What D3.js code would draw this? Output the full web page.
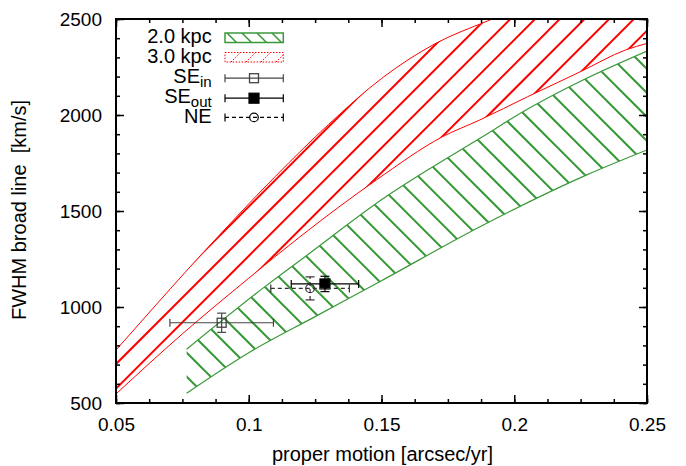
<!DOCTYPE html>
<html><head><meta charset="utf-8">
<script src="https://cdn.jsdelivr.net/npm/d3@7"></script>
<style>
body{margin:0;background:#fff}
svg text{font-family:"Liberation Sans",Arial,sans-serif;fill:#000}
</style>
</head><body>
<svg id="chart" width="686" height="466"></svg>
<script>
// ---- data ----
const xTicks = [0.05, 0.1, 0.15, 0.2, 0.25];
const yTicks = [500, 1000, 1500, 2000, 2500];
const xTickLabels = ["0.05", "0.1", "0.15", "0.2", "0.25"];
const yTickLabels = ["500", "1000", "1500", "2000", "2500"];

// 3.0 kpc band (red)
const red3UpperX = [0.05, 0.065, 0.076, 0.09, 0.11, 0.13, 0.15, 0.17, 0.19, 0.21, 0.25];
const red3UpperY = [776, 1010, 1180, 1390, 1680, 1950, 2190, 2370, 2490, 2600, 2800];
const red3LowerX = [0.05, 0.075, 0.1, 0.1193, 0.148, 0.173, 0.187, 0.205, 0.225, 0.242, 0.25];
const red3LowerY = [547, 860, 1150, 1366, 1661, 1887, 1974, 2095, 2226, 2339, 2373];

// 2.0 kpc band (green)
const green2UpperX = [0.0766, 0.1061, 0.1212, 0.1526, 0.1694, 0.1871, 0.2033, 0.2259, 0.25];
const green2UpperY = [780, 1106, 1262, 1583, 1731, 1879, 2017, 2182, 2333];
const green2LowerX = [0.0766, 0.1, 0.125, 0.15, 0.1871, 0.2273, 0.25];
const green2LowerY = [551, 762, 950, 1137, 1418, 1688, 1818];

// measurements
const pointNames = ["SE_in", "SE_out", "NE"];
const pointX = [0.0898, 0.1287, 0.1231];
const pointY = [918, 1120, 1097];
const pointXErr = [0.0195, 0.0127, 0.0148];
const pointYErr = [50, 40, 60];

const legendLabels = ["2.0 kpc", "3.0 kpc", "SE", "SE", "NE"];
const legendSubs = ["", "", "in", "out", ""];

// ---- layout ----
const svg = d3.select("#chart");
const L = 116, R = 647, T = 19, B = 403;
const x = d3.scaleLinear().domain([0.05, 0.25]).range([L, R]);
const y = d3.scaleLinear().domain([500, 2500]).range([B, T]);
const RED = "#ff0000", GREEN = "#3a983a";

const defs = svg.append("defs");
defs.append("clipPath").attr("id", "plotclip")
  .append("rect").attr("x", L).attr("y", T).attr("width", R - L).attr("height", B - T);

const curve = d3.line().x(d => x(d[0])).y(d => y(d[1])).curve(d3.curveMonotoneX);
const pts = (xs, ys) => xs.map((v, i) => [v, ys[i]]);
function bandPath(ux, uy, lx, ly) {
  const up = curve(pts(ux, uy));
  const lo = curve(pts(lx, ly).reverse().map(d => d)); // reversed order
  // monotoneX needs increasing x; build lower separately with reversed path
  const loRev = d3.line().x(d => x(d[0])).y(d => y(d[1])).curve(d3.curveMonotoneX)(pts(lx, ly));
  // construct closed shape: upper path, then line to lower end, lower reversed via sampled points
  const samples = d3.range(0, 201).map(i => {
    const xv = lx[0] + (lx[lx.length - 1] - lx[0]) * i / 200;
    return [xv, null];
  });
  return {up, loRev};
}
// sample a monotone curve by drawing it to a hidden path and reading points
function samplePath(d, n) {
  const p = svg.append("path").attr("d", d).attr("fill", "none").attr("stroke", "none");
  const node = p.node(), len = node.getTotalLength();
  const out = d3.range(n + 1).map(i => { const q = node.getPointAtLength(len * i / n); return [q.x, q.y]; });
  p.remove();
  return out;
}
function polygonFor(ux, uy, lx, ly) {
  const u = samplePath(curve(pts(ux, uy)), 200);
  const l = samplePath(curve(pts(lx, ly)), 200).reverse();
  return "M" + u.concat(l).map(p => p.join(",")).join("L") + "Z";
}

function hatch(g, dir, c0, step, color, width) {
  // dir = +1 : "\" lines y = x + c ; dir = -1 : "/" lines y = -x + c
  const cs = [];
  for (let c = c0 - step * 60; c < c0 + step * 80; c += step) cs.push(c);
  g.selectAll("line.h").data(cs).join("line").attr("class", "h")
    .attr("x1", 0).attr("x2", 700)
    .attr("y1", c => c)
    .attr("y2", c => dir > 0 ? 700 + c : c - 700)
    .attr("stroke", color).attr("stroke-width", width);
}

const plot = svg.append("g").attr("clip-path", "url(#plotclip)");

// red band
defs.append("clipPath").attr("id", "redclip").append("path")
  .attr("d", polygonFor(red3UpperX, red3UpperY, red3LowerX, red3LowerY));
hatch(plot.append("g").attr("clip-path", "url(#redclip)"), -1, 480, 24.7, RED, 2);
plot.append("path").attr("d", curve(pts(red3UpperX, red3UpperY)))
  .attr("fill", "none").attr("stroke", RED).attr("stroke-width", 1);
plot.append("path").attr("d", curve(pts(red3LowerX, red3LowerY)))
  .attr("fill", "none").attr("stroke", RED).attr("stroke-width", 1);

// green band
defs.append("clipPath").attr("id", "greenclip").append("path")
  .attr("d", polygonFor(green2UpperX, green2UpperY, green2LowerX, green2LowerY));
hatch(plot.append("g").attr("clip-path", "url(#greenclip)"), 1, 166, 24, GREEN, 2);
plot.append("path").attr("d", curve(pts(green2UpperX, green2UpperY)))
  .attr("fill", "none").attr("stroke", GREEN).attr("stroke-width", 1.2);
plot.append("path").attr("d", curve(pts(green2LowerX, green2LowerY)))
  .attr("fill", "none").attr("stroke", GREEN).attr("stroke-width", 1.2);

// ---- error bars ----
const styles = {
  SE_in: {color: "#444", dash: null, marker: "sq-open"},
  SE_out: {color: "#000", dash: null, marker: "sq-fill"},
  NE: {color: "#333", dash: "4,3", marker: "circle"}
};
function marker(g, type, cx, cy, color) {
  if (type === "sq-open") g.append("rect").attr("x", cx - 4.5).attr("y", cy - 4.5).attr("width", 9).attr("height", 9)
    .attr("fill", "none").attr("stroke", color).attr("stroke-width", 1.3);
  else if (type === "sq-fill") g.append("rect").attr("x", cx - 5).attr("y", cy - 5).attr("width", 10).attr("height", 10)
    .attr("fill", color);
  else g.append("circle").attr("cx", cx).attr("cy", cy).attr("r", 4.3)
    .attr("fill", "none").attr("stroke", color).attr("stroke-width", 1.2);
}
const eb = svg.append("g").attr("clip-path", "url(#plotclip)");
pointNames.forEach((n, i) => {
  const s = styles[n];
  const g = eb.append("g").attr("stroke", s.color).attr("stroke-width", 1.2);
  const cx = x(pointX[i]), cy = y(pointY[i]);
  const x0 = x(pointX[i] - pointXErr[i]), x1 = x(pointX[i] + pointXErr[i]);
  const y0 = y(pointY[i] - pointYErr[i]), y1 = y(pointY[i] + pointYErr[i]);
  g.append("line").attr("x1", x0).attr("x2", x1).attr("y1", cy).attr("y2", cy).attr("stroke-dasharray", s.dash);
  g.append("line").attr("x1", cx).attr("x2", cx).attr("y1", y0).attr("y2", y1).attr("stroke-dasharray", s.dash);
  [x0, x1].forEach(xx => g.append("line").attr("x1", xx).attr("x2", xx).attr("y1", cy - 4).attr("y2", cy + 4));
  [y0, y1].forEach(yy => g.append("line").attr("x1", cx - 4.5).attr("x2", cx + 4.5).attr("y1", yy).attr("y2", yy));
  marker(g, s.marker, cx, cy, s.color);
});

// ---- axes ----
const xMinor = d3.range(0, 17).map(i => 0.05 + i * 0.0125);
const yMinor = d3.range(500, 2501, 100);
function styleAxis(g) {
  g.select(".domain").remove();
  g.selectAll(".tick line").attr("stroke", "#000").attr("stroke-width", 1.5);
  g.selectAll("text").attr("font-size", 19).attr("font-family", "'Liberation Sans', Arial, sans-serif").attr("fill", "#000");
}
svg.append("g").attr("transform", `translate(0,${B})`)
  .call(d3.axisBottom(x).tickValues(xMinor).tickSize(-4).tickFormat("")).call(styleAxis);
svg.append("g").attr("transform", `translate(0,${B})`)
  .call(d3.axisBottom(x).tickValues(xTicks).tickSize(-8).tickSizeOuter(0).tickPadding(14.5)
    .tickFormat((d, i) => xTickLabels[i])).call(styleAxis);
svg.append("g").attr("transform", `translate(0,${T})`)
  .call(d3.axisTop(x).tickValues(xMinor).tickSize(-4).tickFormat("")).call(styleAxis);
svg.append("g").attr("transform", `translate(0,${T})`)
  .call(d3.axisTop(x).tickValues(xTicks).tickSize(-8).tickFormat("")).call(styleAxis);
svg.append("g").attr("transform", `translate(${L},0)`)
  .call(d3.axisLeft(y).tickValues(yMinor).tickSize(-4).tickFormat("")).call(styleAxis);
svg.append("g").attr("transform", `translate(${L},0)`)
  .call(d3.axisLeft(y).tickValues(yTicks).tickSize(-8).tickPadding(14)
    .tickFormat((d, i) => yTickLabels[i])).call(styleAxis);
svg.append("g").attr("transform", `translate(${R},0)`)
  .call(d3.axisRight(y).tickValues(yMinor).tickSize(-4).tickFormat("")).call(styleAxis);
svg.append("g").attr("transform", `translate(${R},0)`)
  .call(d3.axisRight(y).tickValues(yTicks).tickSize(-8).tickFormat("")).call(styleAxis);

svg.append("rect").attr("x", L).attr("y", T).attr("width", R - L).attr("height", B - T)
  .attr("fill", "none").attr("stroke", "#000").attr("stroke-width", 2);

// axis titles
svg.append("text").attr("x", 382.5).attr("y", 461).attr("text-anchor", "middle")
  .attr("font-size", 20).text("proper motion [arcsec/yr]");
svg.append("text").attr("transform", "translate(26,210) rotate(-90)").attr("text-anchor", "middle")
  .attr("font-size", 20).style("white-space", "pre").text("FWHM broad line  [km/s]");

// ---- legend ----
const lg = svg.append("g");
const legBase = [43.3, 63.3, 82.7, 102.7, 123.3];
const legMid = [37.5, 57.3, 78.2, 98.2, 117.4];
legendLabels.forEach((lab, i) => {
  const t = lg.append("text").attr("x", 211.7).attr("y", legBase[i]).attr("text-anchor", "end").attr("font-size", 20);
  t.append("tspan").text(lab);
  if (legendSubs[i]) t.append("tspan").attr("font-size", 15).attr("dy", 4.5).text(legendSubs[i]);
});
const bx0 = 225, bx1 = 283.3;
// green box
defs.append("clipPath").attr("id", "lgclip").append("rect").attr("x", bx0).attr("y", 33).attr("width", bx1 - bx0).attr("height", 9.5);
const lgg = lg.append("g").attr("clip-path", "url(#lgclip)");
[0, 1, 2, 3].forEach(k => lgg.append("line").attr("x1", bx0 + 2 + k * 15).attr("y1", 33).attr("x2", bx0 + 12 + k * 15).attr("y2", 43)
  .attr("stroke", GREEN).attr("stroke-width", 1.5));
lg.append("rect").attr("x", bx0).attr("y", 33).attr("width", bx1 - bx0).attr("height", 9.5)
  .attr("fill", "none").attr("stroke", GREEN).attr("stroke-width", 1.5);
// red box
defs.append("clipPath").attr("id", "lrclip").append("rect").attr("x", bx0).attr("y", 52.5).attr("width", bx1 - bx0).attr("height", 9.5);
const lrg = lg.append("g").attr("clip-path", "url(#lrclip)");
[0, 1, 2, 3].forEach(k => lrg.append("line").attr("x1", bx0 + 6 + k * 15).attr("y1", 62).attr("x2", bx0 + 16 + k * 15).attr("y2", 52)
  .attr("stroke", RED).attr("stroke-width", 1).attr("stroke-dasharray", "1.5,1.5"));
lg.append("rect").attr("x", bx0).attr("y", 52.5).attr("width", bx1 - bx0).attr("height", 9.5)
  .attr("fill", "none").attr("stroke", RED).attr("stroke-width", 1).attr("stroke-dasharray", "1.5,1.5");
// error-bar samples
pointNames.forEach((n, i) => {
  const s = styles[n];
  const yy = legMid[i + 2];
  const col = n === "NE" ? "#000" : s.color;
  const g = lg.append("g").attr("stroke", col).attr("stroke-width", 1.2);
  g.append("line").attr("x1", bx0).attr("x2", bx1).attr("y1", yy).attr("y2", yy).attr("stroke-dasharray", s.dash);
  [bx0, bx1].forEach(xx => g.append("line").attr("x1", xx).attr("x2", xx).attr("y1", yy - 4).attr("y2", yy + 4));
  marker(g, s.marker, 254, yy, col);
});
</script>
</body></html>
